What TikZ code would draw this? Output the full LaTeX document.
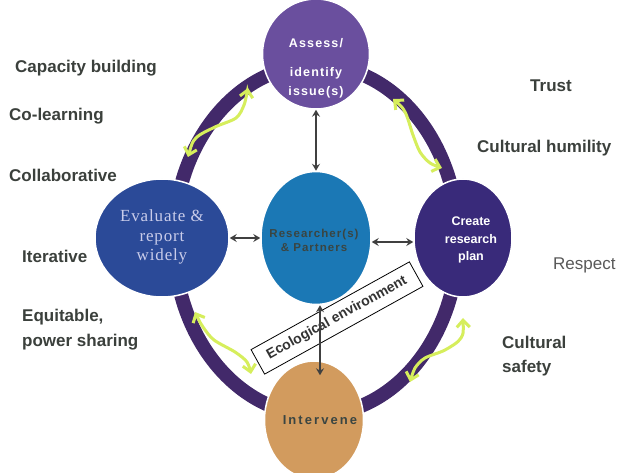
\documentclass[tikz,border=0pt]{standalone}
\usepackage{fontspec}
\setmainfont{Liberation Sans}
\newfontfamily\labf{Liberation Sans}
\newfontfamily\spcf[LetterSpace=9]{Liberation Sans}
\newfontfamily\spcwf[LetterSpace=16]{Liberation Sans}
\newfontfamily\serf[LetterSpace=5]{Liberation Serif}
\usetikzlibrary{shapes.geometric,arrows.meta}
\definecolor{ringc}{HTML}{42296A}
\definecolor{cassess}{HTML}{6A4F9E}
\definecolor{ceval}{HTML}{2B4A98}
\definecolor{ccent}{HTML}{1B78B5}
\definecolor{ccreate}{HTML}{392A7A}
\definecolor{cinter}{HTML}{D29B5E}
\definecolor{cyel}{HTML}{D6EE5C}
\definecolor{labc}{HTML}{3B403C}
\definecolor{evtext}{HTML}{C9CCEA}
\definecolor{centtext}{HTML}{3A4542}
\definecolor{arrc}{HTML}{404040}
\begin{document}
\begin{tikzpicture}[x=1pt,y=-1pt,
  bub/.style={ellipse, draw=white, line width=1.5pt, inner sep=0pt},
  lab/.style={anchor=base west, inner sep=0pt, text=labc, font=\labf\bfseries\fontsize{17}{25}\selectfont, align=left},
  darr/.style={draw=arrc, line width=1.3pt, {Stealth[length=7pt,width=8pt,inset=2.5pt]}-{Stealth[length=7pt,width=8pt,inset=2.5pt]}},
  yarr/.style={draw=cyel, line width=3pt, line cap=round, {Straight Barb[length=7pt,width=13pt]}-{Straight Barb[length=7pt,width=13pt]}},
  ecobox/.style={draw=black, fill=white, line width=0.8pt, minimum width=181pt, minimum height=28pt, inner sep=0pt, text=black!80, font=\labf\bfseries\fontsize{14}{16}\selectfont}
]
\useasboundingbox (0,0) rectangle (619,473);
\fill[white] (0,0) rectangle (619,473);
% ring
\draw[ringc, line width=14pt] (316,240) ellipse [x radius=142pt, y radius=175pt];
% circles
\node[bub, fill=cassess, minimum width=107pt, minimum height=110pt] (assess) at (316,54) {};
\node[bub, fill=ceval, minimum width=134pt, minimum height=118pt] (evaluate) at (162,238) {};
\node[bub, fill=ccent, minimum width=110pt, minimum height=133pt] (center) at (316,238) {};
\node[bub, fill=ccreate, minimum width=98pt, minimum height=118pt] (create) at (463,238) {};
\node[bub, fill=cinter, minimum width=99pt, minimum height=118pt] (intervene) at (314,420) {};
% eco box
\node[ecobox, rotate=29] (eco) at (337,318) {Ecological environment};
% connectors
\draw[darr] (assess.south) -- (center.north);
\draw[darr] (evaluate.east) -- (center.west);
\draw[darr] ([yshift=-4pt]center.east) -- ([yshift=-4pt]create.west);
\draw[darr, shorten >=-15pt] ([xshift=4pt]center.south) -- ([xshift=6pt]intervene.north);
% yellow wavy arrows
\draw[yarr] plot[smooth] coordinates {(188,157) (196,138) (215,127) (236,118) (244,105) (248,88)};
\draw[yarr] plot[smooth] coordinates {(393,99) (405,112) (413,135) (420,152) (430,163) (442,168)};
\draw[yarr] plot[smooth] coordinates {(463,318) (461,338) (445,350) (425,358) (415,368) (410,382)};
\draw[yarr] plot[smooth] coordinates {(195,312) (203,327) (214,340) (235,352) (247,362) (251,374)};
% circle texts
\node[text=white, align=center, font=\spcf\bfseries\fontsize{12.5}{19}\selectfont] (assesst) at (316,68) {Assess/\\[10pt]identify\\issue(s)};
\node[text=evtext, align=center, font=\serf\fontsize{17}{19.5}\selectfont] (evalt) at (162,237) {Evaluate \&\\report\\widely};
\node[text=centtext, align=center, font=\spcf\bfseries\fontsize{11.5}{14}\selectfont] (centt) at (314,240) {Researcher(s)\\\& Partners};
\node[text=white, align=center, font=\labf\bfseries\fontsize{12.5}{17.5}\selectfont] (createt) at (471,240) {Create\\research\\plan};
\node[text=centtext, font=\spcwf\bfseries\fontsize{13}{15}\selectfont] (intert) at (320,420) {Intervene};
% side labels
\node[lab] (l1) at (15,73) {Capacity building};
\node[lab] (l2) at (9,121) {Co-learning};
\node[lab] (l3) at (9,182) {Collaborative};
\node[lab] (l4) at (22,263) {Iterative};
\node[lab] (l5) at (22,347) {Equitable,\\power sharing};
\node[lab] (r1) at (530,92) {Trust};
\node[lab] (r2) at (477,153) {Cultural humility};
\node[lab, font=\labf\fontsize{17}{25}\selectfont, text=black!65] (r3) at (553,270) {Respect};
\node[lab, font=\labf\bfseries\fontsize{17}{24}\selectfont] (r4) at (502,372) {Cultural\\safety};
\end{tikzpicture}
\end{document}
